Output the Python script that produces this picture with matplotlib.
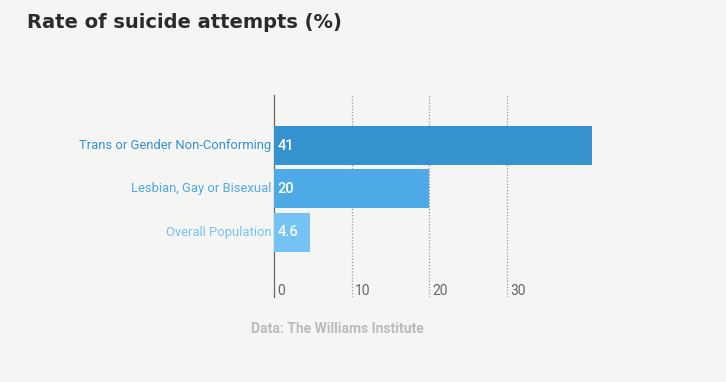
import matplotlib.pyplot as plt

categories = ["Trans or Gender Non-Conforming", "Lesbian, Gay or Bisexual", "Overall Population"]
values = [41, 20, 4.6]
value_labels = ["41", "20", "4.6"]
colors = ["#3592cf", "#4eaae6", "#75c3f4"]
xticks = [0, 10, 20, 30]

bg = "#f5f5f4"
fig = plt.figure(figsize=(7.26, 3.82), dpi=100, facecolor=bg)
ax = fig.add_axes([274 / 726, 1 - 297 / 382, (592 - 274) / 726, (297 - 95) / 382])
ax.set_facecolor(bg)

ypos = [2, 1, 0]
ax.barh(ypos, values, height=0.9, color=colors, zorder=3)
ax.set_xlim(0, 41)
ax.set_ylim(-1.5, 3.17)

for s in ["top", "right", "bottom"]:
    ax.spines[s].set_visible(False)
ax.spines["left"].set_color("#666666")
ax.spines["left"].set_linewidth(0.9)
ax.set_xticks([])
ax.set_yticks([])

for t in xticks[1:]:
    ax.axvline(t, color="#999999", linestyle=(0, (1, 1.5)), linewidth=0.9, zorder=1)

for t in xticks:
    ax.text(t + 0.45, -1.37, str(t), fontsize=10, color="#666666", family="Roboto",
            ha="left", va="center")

for y, cat, v, lab, c in zip(ypos, categories, values, value_labels, colors):
    ax.text(-0.35, y, cat, ha="right", va="center", fontsize=9.4, color=c, family="Roboto")
    ax.text(0.45, y, lab, ha="left", va="center", fontsize=10.5, color="white",
            family="Roboto", fontweight="medium", zorder=4)

fig.text(27 / 726, 1 - 23 / 382, "Rate of suicide attempts (%)", fontsize=14,
         fontweight="bold", color="#2b2b2b", family="DejaVu Sans", ha="left", va="center")
fig.text(337 / 726, 1 - 329 / 382, "Data: The Williams Institute", fontsize=10,
         fontweight="bold", color="#bbbbbb", family="Roboto", ha="center", va="center")

fig.savefig("out.png", dpi=100, facecolor=bg)
